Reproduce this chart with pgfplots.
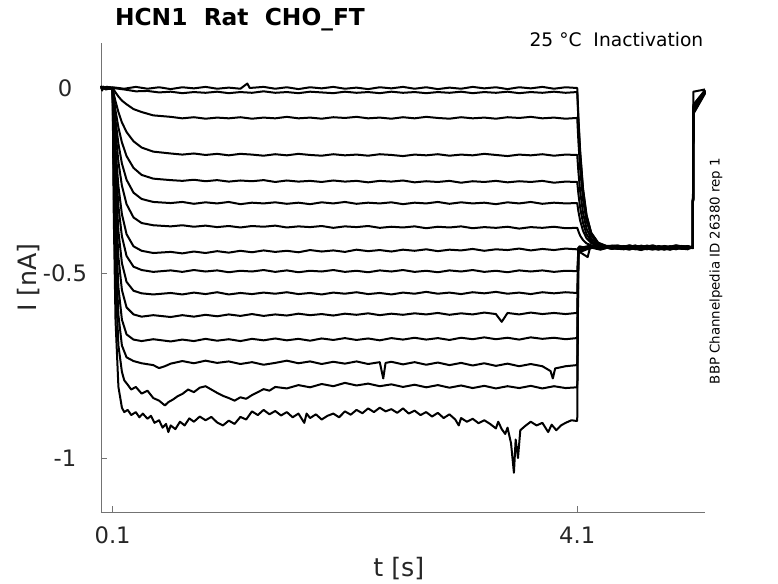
\documentclass[border=0pt]{standalone}
\usepackage{fontspec}
\setmainfont{DejaVu Sans}
\usepackage{pgfplots}
\pgfplotsset{compat=1.18}
\definecolor{mgray}{RGB}{38,38,38}
\begin{document}
\begin{tikzpicture}
\useasboundingbox (-75.75pt,-53.25pt) rectangle (507.75pt,384pt);
\begin{axis}[
  at={(0,0)}, anchor=south west, scale only axis,
  width=453pt, height=351.75pt,
  xmin=0, xmax=5.2, ymin=-1.146, ymax=0.1216,
  axis x line*=bottom, axis y line*=left,
  axis line style={-, black!55, line width=0.6pt},
  xtick={0.1,4.1}, xticklabels={0.1,4.1},
  ytick={-1,-0.5,0}, yticklabels={-1,-0.5,0},
  tick align=inside, major tick length=4.5pt,
  tick style={black!55, line width=0.6pt},
  xticklabel style={anchor=base, yshift=-23.5pt, font=\fontsize{17}{20}\selectfont, text=mgray},
  yticklabel style={anchor=base, xshift=-27pt, yshift=-6.2pt, font=\fontsize{17}{20}\selectfont, text=mgray},
  xlabel={t [s]}, ylabel={I [nA]},
  xlabel style={at={(axis description cs:0.493,-0.1365)}, anchor=base, font=\fontsize{19}{22}\selectfont, text=mgray},
  ylabel style={at={(axis description cs:-0.1076,0.5)}, anchor=base, rotate=0, font=\fontsize{19}{22}\selectfont, text=mgray},
  clip=false,
  cycle list={{black,solid}},
  every axis plot post/.append style={black, solid, line width=1.5pt, line join=round, no marks},
]
% Z1
\addplot coordinates {(0,0.006)(0.01,-0.007)(0.02,0.004)(0.04,-0.004)(0.06,0.003)(0.08,-0.002)(0.1,0.002)(0.2,-0.002)(0.3,0.003)(0.4,-0.002)(0.5,0.002)(0.6,-0.003)(0.7,0.002)(0.8,-0.001)(0.9,0.003)(1.0,-0.002)(1.1,0.001)(1.2,-0.002)(1.26,0.012)(1.28,0.0)(1.4,0.003)(1.5,-0.002)(1.6,0.002)(1.7,-0.003)(1.8,0.002)(1.9,-0.001)(2.0,0.003)(2.1,-0.002)(2.2,0.001)(2.3,-0.003)(2.4,0.002)(2.5,-0.001)(2.6,0.003)(2.7,-0.002)(2.8,0.002)(2.9,-0.003)(3.0,0.001)(3.1,-0.002)(3.2,0.003)(3.3,-0.001)(3.4,0.002)(3.5,-0.003)(3.6,0.002)(3.7,-0.001)(3.8,0.003)(3.9,-0.002)(4.0,0.002)(4.095,0.0)(4.1,0.0)(4.11,-0.078)(4.125,-0.169)(4.15,-0.272)(4.18,-0.343)(4.22,-0.391)(4.28,-0.418)(4.35,-0.427)(4.45,-0.433)(4.55,-0.425)(4.65,-0.436)(4.75,-0.428)(4.85,-0.434)(4.95,-0.426)(5.05,-0.432)(5.095,-0.43)(5.1,-0.06)(5.2,-0.008)};
% Z2
\addplot coordinates {(0,0.002)(0.05,-0.003)(0.1,0)(0.2,-0.004)(0.3,-0.009)(0.4,-0.008)(0.5,-0.012)(0.6,-0.010)(0.7,-0.014)(0.8,-0.011)(0.9,-0.013)(1.0,-0.010)(1.1,-0.014)(1.2,-0.011)(1.3,-0.013)(1.4,-0.009)(1.5,-0.013)(1.6,-0.011)(1.7,-0.014)(1.8,-0.010)(1.9,-0.012)(2.0,-0.014)(2.1,-0.010)(2.2,-0.013)(2.3,-0.011)(2.4,-0.014)(2.5,-0.010)(2.6,-0.013)(2.7,-0.011)(2.8,-0.014)(2.9,-0.011)(3.0,-0.013)(3.1,-0.010)(3.2,-0.014)(3.3,-0.011)(3.4,-0.013)(3.5,-0.010)(3.6,-0.014)(3.7,-0.011)(3.8,-0.013)(3.9,-0.010)(4.0,-0.013)(4.095,-0.011)(4.1,-0.011)(4.11,-0.087)(4.125,-0.176)(4.15,-0.276)(4.18,-0.345)(4.22,-0.392)(4.28,-0.419)(4.35,-0.427)(4.45,-0.426)(4.55,-0.434)(4.65,-0.427)(4.75,-0.435)(4.85,-0.428)(4.95,-0.433)(5.05,-0.427)(5.095,-0.431)(5.1,-0.01)(5.2,-0.004)};
% T1
\addplot coordinates {(0,0.003)(0.05,-0.002)(0.1,0)(0.11,-0.005)(0.125,-0.012)(0.15,-0.023)(0.18,-0.034)(0.22,-0.044)(0.28,-0.057)(0.35,-0.065)(0.45,-0.074)(0.6,-0.078)(0.7,-0.082)(0.8,-0.079)(0.9,-0.083)(1.0,-0.080)(1.1,-0.082)(1.2,-0.079)(1.3,-0.083)(1.4,-0.080)(1.5,-0.082)(1.6,-0.078)(1.7,-0.082)(1.8,-0.080)(1.9,-0.083)(2.0,-0.079)(2.1,-0.081)(2.2,-0.078)(2.3,-0.082)(2.4,-0.080)(2.5,-0.083)(2.6,-0.079)(2.7,-0.082)(2.8,-0.078)(2.9,-0.081)(3.0,-0.083)(3.1,-0.079)(3.2,-0.082)(3.3,-0.080)(3.4,-0.083)(3.5,-0.079)(3.6,-0.081)(3.7,-0.078)(3.8,-0.082)(3.9,-0.080)(4.0,-0.083)(4.095,-0.081)(4.1,-0.081)(4.11,-0.144)(4.125,-0.218)(4.15,-0.302)(4.18,-0.360)(4.22,-0.398)(4.28,-0.421)(4.35,-0.428)(4.45,-0.435)(4.55,-0.427)(4.65,-0.433)(4.75,-0.425)(4.85,-0.436)(4.95,-0.429)(5.05,-0.434)(5.095,-0.428)(5.1,-0.065)(5.15,-0.04)(5.2,-0.012)};
% T2
\addplot coordinates {(0,0.002)(0.05,-0.003)(0.1,0)(0.11,-0.016)(0.125,-0.036)(0.15,-0.065)(0.18,-0.093)(0.22,-0.119)(0.28,-0.144)(0.35,-0.161)(0.45,-0.172)(0.6,-0.177)(0.7,-0.180)(0.8,-0.177)(0.9,-0.181)(1.0,-0.178)(1.1,-0.182)(1.2,-0.178)(1.3,-0.180)(1.4,-0.183)(1.5,-0.179)(1.6,-0.182)(1.7,-0.178)(1.8,-0.181)(1.9,-0.183)(2.0,-0.179)(2.1,-0.182)(2.2,-0.180)(2.3,-0.183)(2.4,-0.179)(2.5,-0.181)(2.6,-0.184)(2.7,-0.180)(2.8,-0.182)(2.9,-0.179)(3.0,-0.183)(3.1,-0.180)(3.2,-0.182)(3.3,-0.178)(3.4,-0.181)(3.5,-0.184)(3.6,-0.180)(3.7,-0.182)(3.8,-0.179)(3.9,-0.183)(4.0,-0.180)(4.095,-0.181)(4.1,-0.181)(4.11,-0.226)(4.125,-0.279)(4.15,-0.338)(4.18,-0.380)(4.22,-0.407)(4.28,-0.423)(4.35,-0.428)(4.45,-0.431)(4.55,-0.437)(4.65,-0.426)(4.75,-0.433)(4.85,-0.428)(4.95,-0.436)(5.05,-0.427)(5.095,-0.432)(5.1,-0.055)(5.2,-0.01)};
% T3
\addplot coordinates {(0,-0.002)(0.05,0.002)(0.1,0)(0.11,-0.026)(0.125,-0.061)(0.15,-0.107)(0.18,-0.147)(0.22,-0.184)(0.28,-0.216)(0.35,-0.235)(0.45,-0.245)(0.6,-0.249)(0.7,-0.251)(0.8,-0.248)(0.9,-0.252)(1.0,-0.249)(1.1,-0.253)(1.2,-0.250)(1.3,-0.252)(1.4,-0.249)(1.5,-0.254)(1.6,-0.250)(1.7,-0.253)(1.8,-0.251)(1.9,-0.254)(2.0,-0.250)(2.1,-0.253)(2.2,-0.251)(2.3,-0.255)(2.4,-0.251)(2.5,-0.253)(2.6,-0.250)(2.7,-0.255)(2.8,-0.252)(2.9,-0.254)(3.0,-0.251)(3.1,-0.256)(3.2,-0.252)(3.3,-0.254)(3.4,-0.251)(3.5,-0.255)(3.6,-0.252)(3.7,-0.254)(3.8,-0.251)(3.9,-0.256)(4.0,-0.253)(4.095,-0.254)(4.1,-0.254)(4.11,-0.286)(4.125,-0.323)(4.15,-0.365)(4.18,-0.395)(4.22,-0.414)(4.28,-0.425)(4.35,-0.429)(4.45,-0.426)(4.55,-0.432)(4.65,-0.438)(4.75,-0.429)(4.85,-0.433)(4.95,-0.425)(5.05,-0.431)(5.095,-0.429)(5.1,-0.07)(5.2,-0.015)};
% T4
\addplot coordinates {(0,0.003)(0.05,-0.002)(0.1,0)(0.11,-0.039)(0.125,-0.088)(0.15,-0.151)(0.18,-0.204)(0.22,-0.248)(0.28,-0.283)(0.35,-0.300)(0.45,-0.308)(0.6,-0.311)(0.7,-0.308)(0.8,-0.313)(0.9,-0.309)(1.0,-0.312)(1.1,-0.308)(1.2,-0.314)(1.3,-0.310)(1.4,-0.312)(1.5,-0.309)(1.6,-0.313)(1.7,-0.310)(1.8,-0.314)(1.9,-0.309)(2.0,-0.312)(2.1,-0.308)(2.2,-0.313)(2.3,-0.310)(2.4,-0.312)(2.5,-0.309)(2.6,-0.314)(2.7,-0.310)(2.8,-0.312)(2.9,-0.308)(3.0,-0.313)(3.1,-0.309)(3.2,-0.312)(3.3,-0.310)(3.4,-0.314)(3.5,-0.309)(3.6,-0.312)(3.7,-0.308)(3.8,-0.313)(3.9,-0.310)(4.0,-0.312)(4.095,-0.311)(4.1,-0.311)(4.11,-0.333)(4.125,-0.358)(4.15,-0.386)(4.18,-0.406)(4.22,-0.419)(4.28,-0.427)(4.35,-0.429)(4.45,-0.434)(4.55,-0.426)(4.65,-0.431)(4.75,-0.437)(4.85,-0.427)(4.95,-0.432)(5.05,-0.436)(5.095,-0.43)(5.1,-0.06)(5.2,-0.01)};
% T5
\addplot coordinates {(0,-0.002)(0.05,0.003)(0.1,0)(0.11,-0.053)(0.125,-0.119)(0.15,-0.200)(0.18,-0.264)(0.22,-0.314)(0.28,-0.350)(0.35,-0.365)(0.45,-0.371)(0.6,-0.374)(0.7,-0.371)(0.8,-0.375)(0.9,-0.372)(1.0,-0.376)(1.1,-0.373)(1.2,-0.377)(1.3,-0.373)(1.4,-0.375)(1.5,-0.372)(1.6,-0.377)(1.7,-0.374)(1.8,-0.376)(1.9,-0.373)(2.0,-0.378)(2.1,-0.374)(2.2,-0.376)(2.3,-0.373)(2.4,-0.378)(2.5,-0.375)(2.6,-0.377)(2.7,-0.374)(2.8,-0.379)(2.9,-0.375)(3.0,-0.377)(3.1,-0.374)(3.2,-0.379)(3.3,-0.376)(3.4,-0.378)(3.5,-0.375)(3.6,-0.380)(3.7,-0.376)(3.8,-0.378)(3.9,-0.375)(4.0,-0.379)(4.095,-0.378)(4.1,-0.378)(4.11,-0.387)(4.125,-0.399)(4.15,-0.411)(4.18,-0.420)(4.22,-0.425)(4.28,-0.429)(4.35,-0.430)(4.45,-0.427)(4.55,-0.435)(4.65,-0.428)(4.75,-0.432)(4.85,-0.437)(4.95,-0.428)(5.05,-0.433)(5.095,-0.43)(5.1,-0.05)(5.2,-0.006)};
% T6
\addplot coordinates {(0,0.002)(0.05,-0.003)(0.1,0)(0.11,-0.074)(0.125,-0.163)(0.15,-0.266)(0.18,-0.341)(0.22,-0.395)(0.28,-0.428)(0.35,-0.440)(0.45,-0.446)(0.6,-0.443)(0.7,-0.447)(0.8,-0.442)(0.9,-0.446)(1.0,-0.441)(1.1,-0.445)(1.2,-0.440)(1.3,-0.444)(1.4,-0.439)(1.5,-0.443)(1.6,-0.440)(1.7,-0.444)(1.8,-0.438)(1.9,-0.442)(2.0,-0.439)(2.1,-0.443)(2.2,-0.437)(2.3,-0.441)(2.4,-0.438)(2.5,-0.442)(2.6,-0.437)(2.7,-0.440)(2.8,-0.436)(2.9,-0.441)(3.0,-0.437)(3.1,-0.439)(3.2,-0.435)(3.3,-0.440)(3.4,-0.436)(3.5,-0.438)(3.6,-0.434)(3.7,-0.439)(3.8,-0.435)(3.9,-0.438)(4.0,-0.434)(4.095,-0.436)(4.1,-0.436)(4.12,-0.428)(4.2,-0.434)(4.3,-0.426)(4.4,-0.433)(4.5,-0.429)(4.6,-0.436)(4.7,-0.427)(4.8,-0.433)(4.9,-0.428)(5.0,-0.435)(5.095,-0.43)(5.1,-0.065)(5.2,-0.012)};
% T7
\addplot coordinates {(0,-0.002)(0.05,0.002)(0.1,0)(0.11,-0.093)(0.125,-0.201)(0.15,-0.320)(0.18,-0.401)(0.22,-0.454)(0.28,-0.483)(0.35,-0.492)(0.45,-0.497)(0.6,-0.493)(0.7,-0.497)(0.8,-0.492)(0.9,-0.496)(1.0,-0.493)(1.1,-0.498)(1.2,-0.494)(1.3,-0.496)(1.4,-0.492)(1.5,-0.497)(1.6,-0.493)(1.7,-0.498)(1.8,-0.494)(1.9,-0.496)(2.0,-0.492)(2.1,-0.497)(2.2,-0.494)(2.3,-0.498)(2.4,-0.493)(2.5,-0.496)(2.6,-0.492)(2.7,-0.497)(2.8,-0.494)(2.9,-0.498)(3.0,-0.493)(3.1,-0.496)(3.2,-0.492)(3.3,-0.497)(3.4,-0.494)(3.5,-0.498)(3.6,-0.493)(3.7,-0.496)(3.8,-0.493)(3.9,-0.497)(4.0,-0.494)(4.095,-0.495)(4.1,-0.495)(4.11,-0.436)(4.2,-0.429)(4.3,-0.435)(4.4,-0.427)(4.5,-0.432)(4.6,-0.426)(4.7,-0.434)(4.8,-0.429)(4.9,-0.436)(5.0,-0.427)(5.095,-0.432)(5.1,-0.058)(5.2,-0.009)};
% T8
\addplot coordinates {(0,0.002)(0.05,-0.002)(0.1,0)(0.11,-0.118)(0.125,-0.249)(0.15,-0.387)(0.18,-0.473)(0.22,-0.524)(0.28,-0.548)(0.35,-0.555)(0.45,-0.558)(0.6,-0.554)(0.7,-0.558)(0.8,-0.553)(0.9,-0.557)(1.0,-0.552)(1.1,-0.558)(1.2,-0.554)(1.3,-0.557)(1.4,-0.553)(1.5,-0.556)(1.6,-0.552)(1.7,-0.557)(1.8,-0.554)(1.9,-0.558)(2.0,-0.553)(2.1,-0.556)(2.2,-0.552)(2.3,-0.557)(2.4,-0.554)(2.5,-0.558)(2.6,-0.553)(2.7,-0.556)(2.8,-0.551)(2.9,-0.556)(3.0,-0.553)(3.1,-0.557)(3.2,-0.552)(3.3,-0.555)(3.4,-0.551)(3.5,-0.556)(3.6,-0.553)(3.7,-0.557)(3.8,-0.552)(3.9,-0.555)(4.0,-0.552)(4.095,-0.554)(4.1,-0.554)(4.11,-0.441)(4.19,-0.457)(4.21,-0.432)(4.3,-0.428)(4.4,-0.435)(4.5,-0.427)(4.6,-0.433)(4.7,-0.428)(4.8,-0.436)(4.9,-0.429)(5.0,-0.434)(5.095,-0.429)(5.1,-0.045)(5.2,-0.006)};
% T9
\addplot coordinates {(0,-0.002)(0.05,0.002)(0.1,0)(0.11,-0.146)(0.125,-0.303)(0.15,-0.457)(0.18,-0.546)(0.22,-0.593)(0.28,-0.612)(0.35,-0.618)(0.45,-0.614)(0.6,-0.619)(0.7,-0.614)(0.8,-0.618)(0.9,-0.613)(1.0,-0.617)(1.1,-0.612)(1.2,-0.616)(1.3,-0.611)(1.4,-0.616)(1.5,-0.612)(1.6,-0.615)(1.7,-0.610)(1.8,-0.614)(1.9,-0.611)(2.0,-0.615)(2.1,-0.610)(2.2,-0.613)(2.3,-0.609)(2.4,-0.614)(2.5,-0.610)(2.6,-0.613)(2.7,-0.609)(2.8,-0.612)(2.9,-0.608)(3.0,-0.613)(3.1,-0.609)(3.2,-0.612)(3.3,-0.607)(3.4,-0.611)(3.45,-0.632)(3.5,-0.608)(3.6,-0.612)(3.7,-0.607)(3.8,-0.611)(3.9,-0.608)(4.0,-0.611)(4.095,-0.608)(4.1,-0.608)(4.11,-0.437)(4.2,-0.428)(4.3,-0.434)(4.4,-0.426)(4.5,-0.433)(4.6,-0.429)(4.7,-0.436)(4.8,-0.427)(4.9,-0.432)(5.0,-0.428)(5.095,-0.431)(5.1,-0.062)(5.2,-0.011)};
% T10
\addplot coordinates {(0,0.002)(0.05,-0.002)(0.1,0)(0.11,-0.183)(0.125,-0.370)(0.15,-0.539)(0.18,-0.626)(0.22,-0.666)(0.28,-0.680)(0.35,-0.684)(0.45,-0.679)(0.6,-0.685)(0.7,-0.680)(0.8,-0.684)(0.9,-0.678)(1.0,-0.683)(1.1,-0.679)(1.2,-0.684)(1.3,-0.678)(1.4,-0.682)(1.5,-0.677)(1.6,-0.682)(1.7,-0.678)(1.8,-0.683)(1.9,-0.677)(2.0,-0.681)(2.1,-0.676)(2.2,-0.681)(2.3,-0.677)(2.4,-0.682)(2.5,-0.676)(2.6,-0.680)(2.7,-0.675)(2.8,-0.680)(2.9,-0.676)(3.0,-0.681)(3.1,-0.675)(3.2,-0.679)(3.3,-0.674)(3.4,-0.679)(3.5,-0.675)(3.6,-0.680)(3.7,-0.674)(3.8,-0.678)(3.9,-0.675)(4.0,-0.679)(4.095,-0.676)(4.1,-0.676)(4.11,-0.433)(4.2,-0.427)(4.3,-0.436)(4.4,-0.429)(4.5,-0.434)(4.6,-0.427)(4.7,-0.432)(4.8,-0.437)(4.9,-0.428)(5.0,-0.433)(5.095,-0.43)(5.1,-0.05)(5.2,-0.008)};
% T11
\addplot coordinates {(0,-0.002)(0.05,0.003)(0.1,0)(0.11,-0.222)(0.125,-0.436)(0.15,-0.614)(0.18,-0.696)(0.22,-0.728)(0.28,-0.738)(0.35,-0.744)(0.45,-0.749)(0.5,-0.757)(0.55,-0.752)(0.6,-0.745)(0.7,-0.738)(0.8,-0.744)(0.9,-0.737)(1.0,-0.743)(1.1,-0.739)(1.2,-0.746)(1.3,-0.741)(1.4,-0.748)(1.5,-0.743)(1.6,-0.737)(1.7,-0.744)(1.8,-0.739)(1.9,-0.746)(2.0,-0.740)(2.1,-0.745)(2.2,-0.739)(2.3,-0.746)(2.4,-0.741)(2.43,-0.785)(2.45,-0.743)(2.5,-0.740)(2.6,-0.747)(2.7,-0.741)(2.8,-0.748)(2.9,-0.742)(3.0,-0.749)(3.1,-0.743)(3.2,-0.750)(3.3,-0.744)(3.4,-0.751)(3.5,-0.745)(3.6,-0.752)(3.7,-0.746)(3.8,-0.752)(3.87,-0.765)(3.89,-0.785)(3.91,-0.758)(4.0,-0.752)(4.095,-0.749)(4.1,-0.749)(4.11,-0.44)(4.2,-0.432)(4.3,-0.427)(4.4,-0.435)(4.5,-0.428)(4.6,-0.434)(4.7,-0.426)(4.8,-0.432)(4.9,-0.437)(5.0,-0.429)(5.095,-0.431)(5.1,-0.055)(5.2,-0.01)};
% T12
\addplot coordinates {(0,0.002)(0.05,-0.002)(0.1,0)(0.11,-0.271)(0.125,-0.514)(0.15,-0.696)(0.18,-0.767)(0.2,-0.790)(0.23,-0.802)(0.26,-0.815)(0.3,-0.808)(0.35,-0.826)(0.4,-0.818)(0.45,-0.838)(0.5,-0.845)(0.55,-0.858)(0.58,-0.849)(0.62,-0.842)(0.66,-0.833)(0.7,-0.827)(0.75,-0.815)(0.8,-0.822)(0.85,-0.810)(0.9,-0.806)(0.95,-0.815)(1.0,-0.824)(1.05,-0.832)(1.1,-0.838)(1.15,-0.845)(1.2,-0.836)(1.25,-0.840)(1.3,-0.830)(1.35,-0.822)(1.4,-0.814)(1.45,-0.818)(1.5,-0.808)(1.6,-0.812)(1.7,-0.803)(1.8,-0.809)(1.9,-0.800)(2.0,-0.806)(2.1,-0.797)(2.2,-0.804)(2.3,-0.799)(2.4,-0.806)(2.5,-0.801)(2.6,-0.808)(2.7,-0.802)(2.8,-0.809)(2.9,-0.803)(3.0,-0.810)(3.1,-0.804)(3.2,-0.811)(3.3,-0.805)(3.4,-0.812)(3.5,-0.806)(3.6,-0.811)(3.7,-0.805)(3.8,-0.812)(3.9,-0.806)(4.0,-0.811)(4.095,-0.809)(4.1,-0.809)(4.11,-0.445)(4.2,-0.434)(4.3,-0.428)(4.4,-0.433)(4.5,-0.436)(4.6,-0.428)(4.7,-0.435)(4.8,-0.429)(4.9,-0.434)(5.0,-0.427)(5.095,-0.432)(5.1,-0.068)(5.2,-0.013)};
% T13
\addplot coordinates {(0,-0.003)(0.05,0.002)(0.1,0)(0.11,-0.346)(0.125,-0.628)(0.15,-0.808)(0.18,-0.864)(0.2,-0.876)(0.23,-0.870)(0.26,-0.884)(0.3,-0.876)(0.33,-0.890)(0.36,-0.880)(0.4,-0.894)(0.43,-0.886)(0.46,-0.905)(0.5,-0.898)(0.53,-0.918)(0.56,-0.908)(0.58,-0.930)(0.6,-0.912)(0.64,-0.922)(0.68,-0.902)(0.72,-0.912)(0.76,-0.893)(0.8,-0.902)(0.85,-0.888)(0.9,-0.898)(0.95,-0.889)(1.0,-0.904)(1.05,-0.912)(1.1,-0.899)(1.15,-0.908)(1.2,-0.889)(1.25,-0.896)(1.3,-0.874)(1.35,-0.884)(1.4,-0.870)(1.45,-0.882)(1.5,-0.873)(1.55,-0.885)(1.6,-0.876)(1.65,-0.890)(1.7,-0.880)(1.75,-0.905)(1.77,-0.880)(1.8,-0.892)(1.85,-0.882)(1.9,-0.896)(1.95,-0.886)(2.0,-0.880)(2.05,-0.890)(2.1,-0.874)(2.15,-0.883)(2.2,-0.870)(2.25,-0.879)(2.3,-0.866)(2.35,-0.876)(2.4,-0.864)(2.45,-0.874)(2.5,-0.868)(2.55,-0.878)(2.6,-0.866)(2.65,-0.880)(2.7,-0.872)(2.75,-0.884)(2.8,-0.876)(2.85,-0.888)(2.9,-0.878)(2.95,-0.892)(3.0,-0.882)(3.05,-0.896)(3.08,-0.912)(3.1,-0.892)(3.15,-0.902)(3.2,-0.894)(3.25,-0.906)(3.3,-0.898)(3.35,-0.908)(3.4,-0.920)(3.42,-0.902)(3.45,-0.922)(3.48,-0.935)(3.5,-0.918)(3.53,-0.96)(3.555,-1.04)(3.57,-0.95)(3.59,-1.0)(3.61,-0.925)(3.65,-0.914)(3.7,-0.902)(3.75,-0.912)(3.8,-0.905)(3.85,-0.930)(3.88,-0.910)(3.92,-0.925)(3.96,-0.912)(4.0,-0.905)(4.05,-0.898)(4.095,-0.900)(4.1,-0.900)(4.11,-0.438)(4.2,-0.43)(4.3,-0.437)(4.4,-0.428)(4.5,-0.433)(4.6,-0.426)(4.7,-0.434)(4.8,-0.43)(4.9,-0.436)(5.0,-0.428)(5.095,-0.433)(5.1,-0.06)(5.2,-0.01)};
\node[anchor=base, font=\bfseries\fontsize{17.5}{20}\selectfont] at (axis description cs:0.2301,1.03625) {HCN1\ \ Rat\ \ CHO\_FT};
\node[anchor=base east, font=\fontsize{14}{17}\selectfont] at (axis description cs:1.005,0.9915) {25 °C\ \ Inactivation};
\node[anchor=center, rotate=90, font=\fontsize{10}{12}\selectfont] at (axis description cs:1.0182,0.5139) {BBP Channelpedia ID 26380 rep 1};
\end{axis}
\end{tikzpicture}
\end{document}
